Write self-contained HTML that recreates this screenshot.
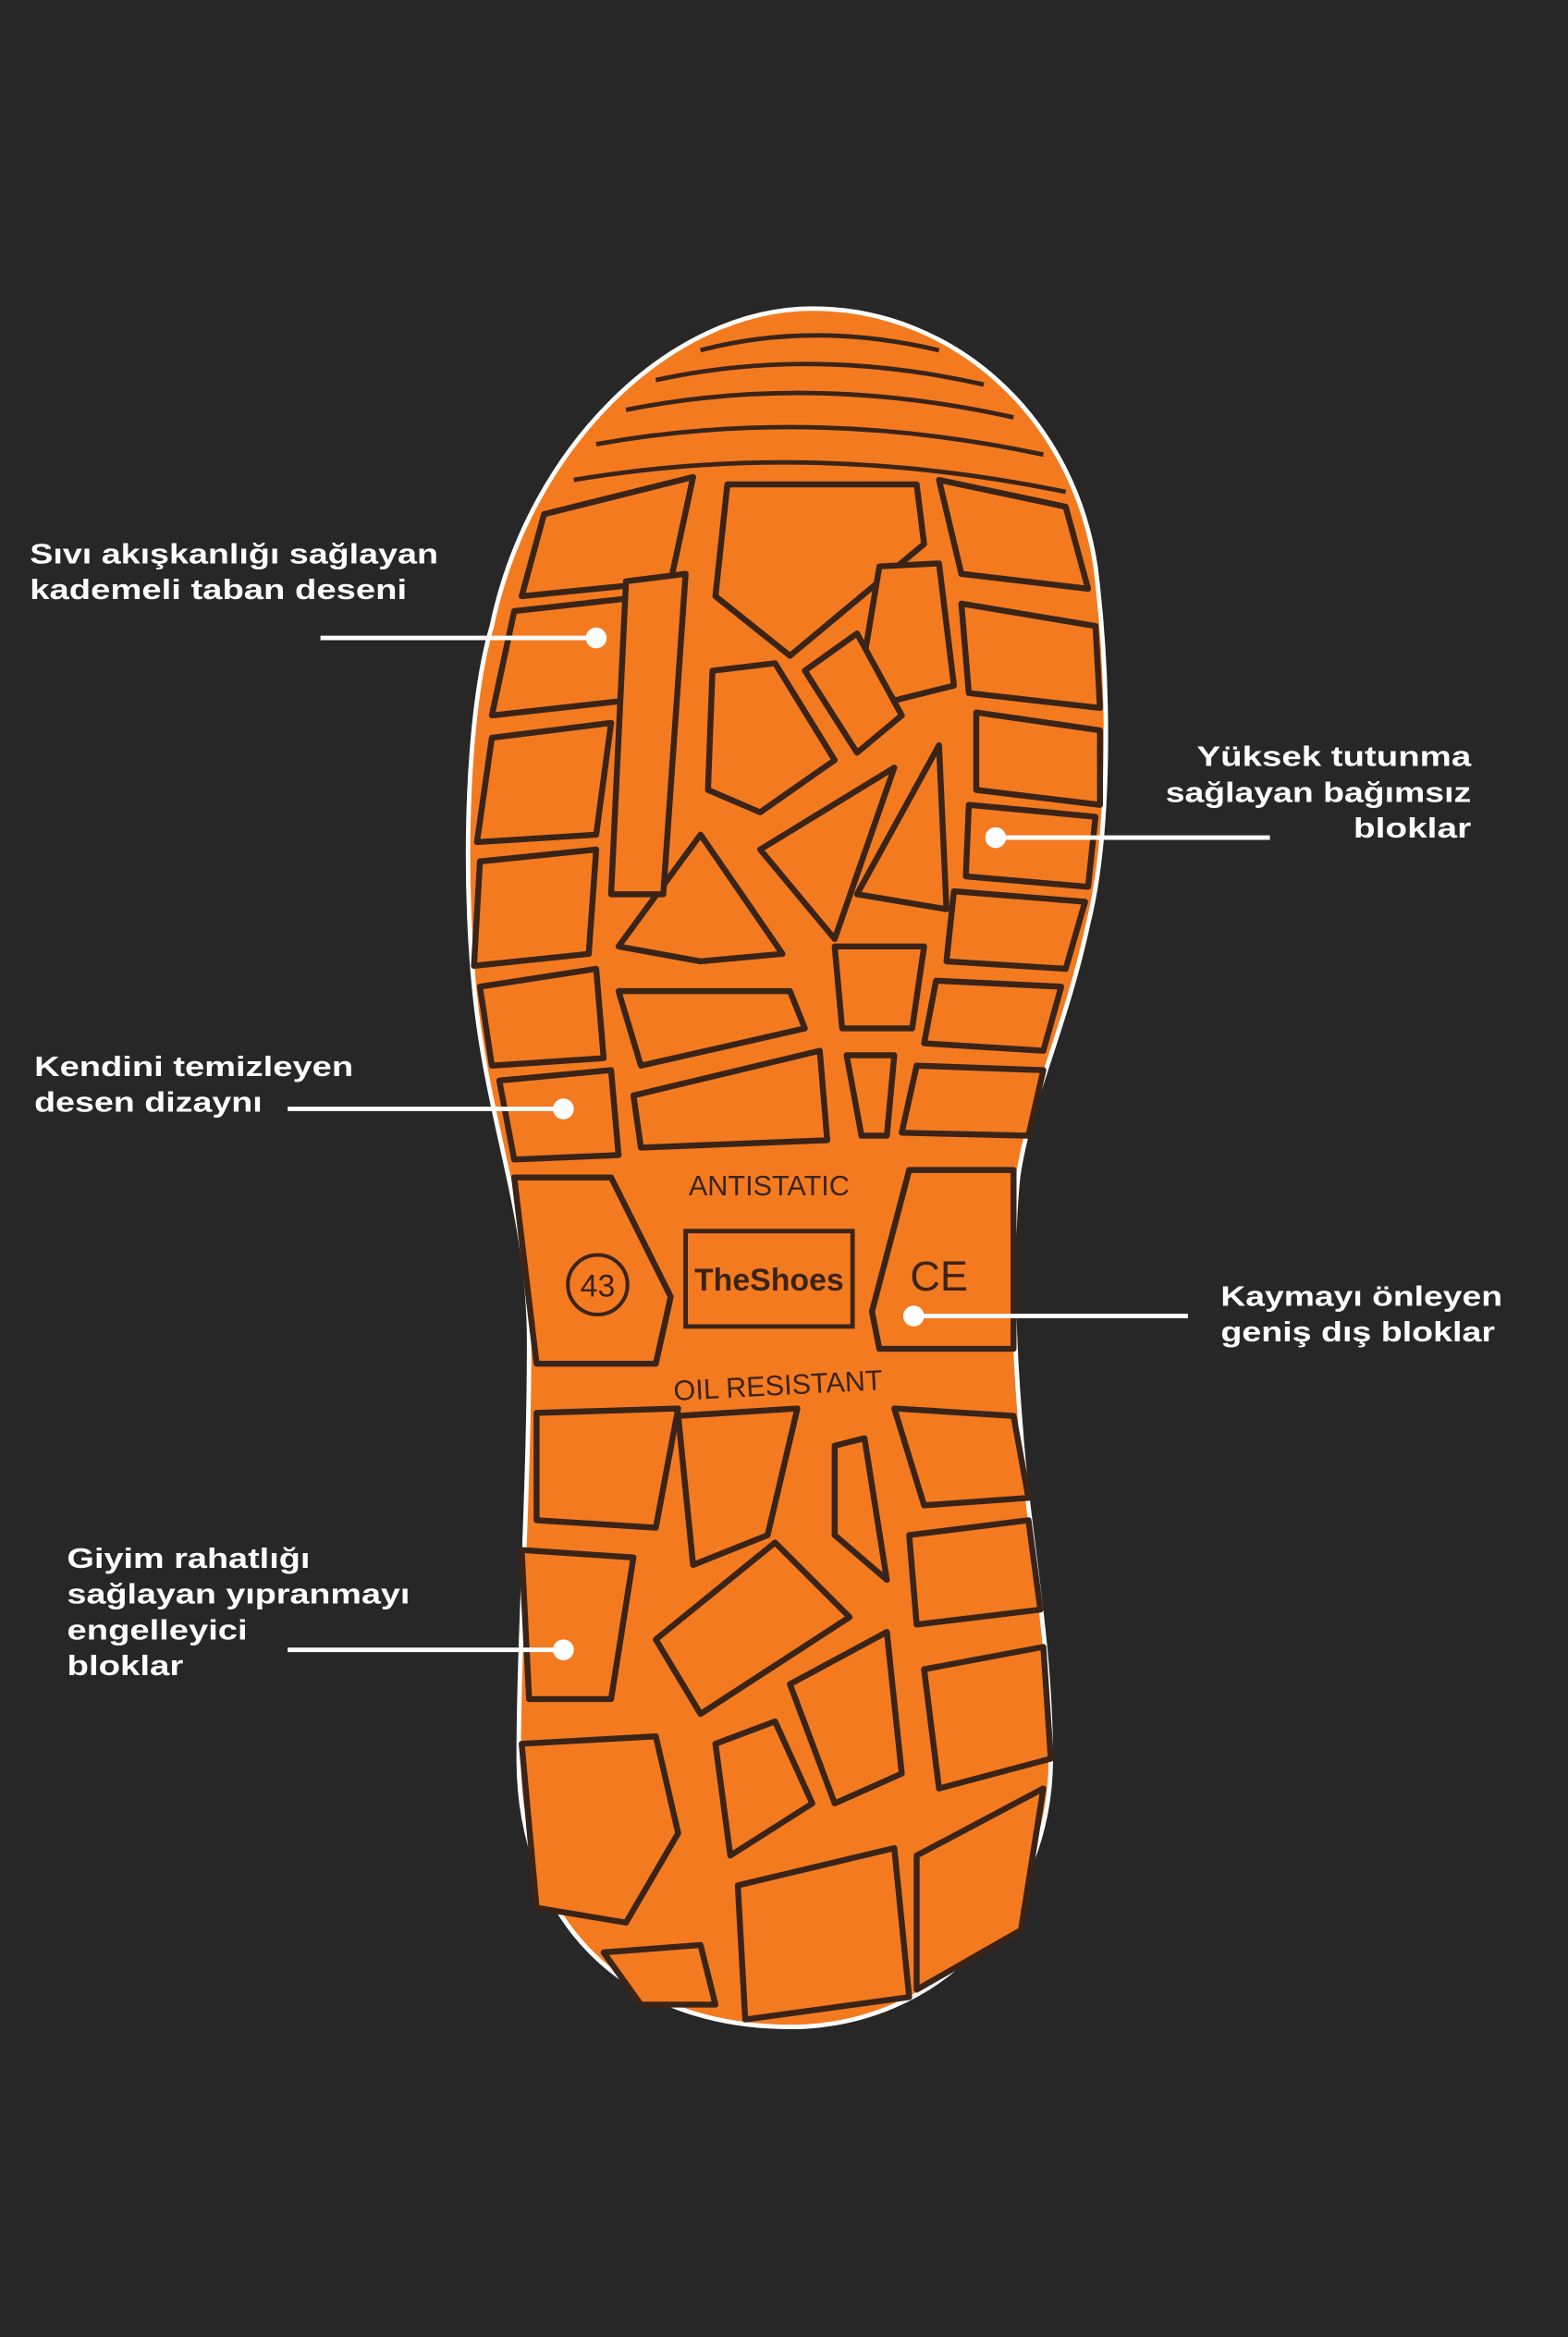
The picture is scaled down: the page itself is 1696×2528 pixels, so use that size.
<!DOCTYPE html>
<html><head><meta charset="utf-8"><style>
html,body{margin:0;padding:0;background:#272727;}
svg{display:block;}
text{font-family:"Liberation Sans",sans-serif;}
.lbl{fill:#fff;font-weight:bold;font-size:19px;}
.b{fill:#f47a20;stroke:#3a2418;stroke-width:4;stroke-linejoin:round;}
.l{fill:none;stroke:#3a2418;stroke-width:3;}
</style></head><body>
<svg width="1696" height="2528" viewBox="0 0 1052 1568" xmlns="http://www.w3.org/2000/svg">
<rect width="1052" height="1568" fill="#272727"/>
<path d="M545,207 C640,207 720,280 735,380 C745,460 745,560 730,620 C715,690 690,740 683,790 C678,840 680,900 685,960 C690,1030 705,1100 705,1180 C705,1280 630,1360 530,1360 C420,1360 348,1290 348,1180 C348,1100 355,1000 355,900 C355,820 330,760 320,680 C310,600 312,480 330,420 C355,300 450,207 545,207 Z" fill="#f47a20" stroke="#fff" stroke-width="3"/>
<g class="l">
<path d="M470,235 Q545,215 630,235"/><path d="M440,255 Q545,232 660,258"/><path d="M420,275 Q545,250 680,280"/><path d="M400,298 Q545,272 700,305"/><path d="M385,322 Q545,295 715,330"/>
</g>
<g class="b">
<path d="M365,345 L465,320 L450,390 L350,400 Z"/>
<path d="M345,410 L435,400 L420,470 L330,480 Z"/>
<path d="M330,495 L410,485 L400,560 L320,565 Z"/>
<path d="M322,578 L400,570 L395,640 L318,648 Z"/>
<path d="M322,662 L400,650 L405,710 L330,715 Z"/>
<path d="M335,725 L410,718 L415,775 L345,778 Z"/>
</g>
<g class="b">
<path d="M630,322 L715,340 L730,395 L645,385 Z"/>
<path d="M645,405 L735,420 L738,475 L650,465 Z"/>
<path d="M655,478 L738,490 L738,540 L655,530 Z"/>
<path d="M650,540 L735,548 L730,595 L648,588 Z"/>
<path d="M640,598 L728,605 L715,650 L635,645 Z"/>
<path d="M628,658 L712,662 L700,705 L620,700 Z"/>
<path d="M615,715 L700,718 L690,762 L605,760 Z"/>
</g>
<g class="b">
<path d="M488,325 L615,325 L620,365 L530,440 L480,400 Z"/>
<path d="M590,380 L630,378 L640,460 L600,470 L580,440 Z"/>
<path d="M540,450 L575,425 L605,480 L575,505 Z"/>
<path d="M478,450 L520,445 L560,510 L510,545 L475,530 Z"/>
<path d="M415,635 L470,560 L525,640 L470,645 Z"/>
<path d="M510,570 L600,515 L560,630 Z"/>
<path d="M575,600 L630,500 L635,610 Z"/>
<path d="M415,665 L530,665 L540,690 L430,715 Z"/>
<path d="M425,735 L550,705 L555,765 L430,770 Z"/>
<path d="M560,635 L620,635 L612,690 L565,690 Z"/>
<path d="M568,708 L600,708 L595,762 L578,762 Z"/>
<path d="M420,390 L460,385 L445,600 L410,600 Z"/>
<path d="M345,790 L410,790 L450,870 L440,915 L360,915 Z"/>
<path d="M610,785 L680,785 L680,905 L590,905 L585,880 Z"/>
<path d="M360,948 L455,945 L440,1025 L360,1020 Z"/>
<path d="M455,950 L535,945 L515,1030 L465,1050 Z"/>
<path d="M560,970 L580,965 L595,1060 L560,1030 Z"/>
<path d="M600,945 L680,950 L690,1005 L620,1010 Z"/>
<path d="M350,1040 L425,1045 L410,1140 L355,1140 Z"/>
<path d="M440,1100 L520,1035 L570,1085 L470,1150 Z"/>
<path d="M610,1030 L690,1020 L698,1080 L615,1090 Z"/>
<path d="M350,1170 L440,1165 L455,1230 L420,1290 L360,1280 Z"/>
<path d="M480,1170 L520,1155 L545,1210 L490,1245 Z"/>
<path d="M530,1130 L595,1095 L605,1190 L560,1210 Z"/>
<path d="M620,1120 L700,1105 L705,1180 L630,1200 Z"/>
<path d="M495,1265 L600,1240 L610,1340 L500,1355 Z"/>
<path d="M615,1245 L700,1200 L685,1295 L615,1335 Z"/>
<path d="M405,1310 L470,1305 L480,1345 L430,1345 Z"/>
</g>
<rect x="460" y="826" width="112" height="64" fill="none" stroke="#3a2418" stroke-width="3"/>
<text x="516" y="866" text-anchor="middle" font-size="21" font-weight="bold" fill="#3a2418">TheShoes</text>
<text x="516" y="802" text-anchor="middle" font-size="19" fill="#3a2418">ANTISTATIC</text>
<text x="522" y="936" text-anchor="middle" font-size="19" fill="#3a2418" transform="rotate(-3 522 930)">OIL RESISTANT</text>
<circle cx="401" cy="862" r="20" fill="none" stroke="#3a2418" stroke-width="2.5"/>
<text x="401" y="870" text-anchor="middle" font-size="21" fill="#3a2418">43</text>
<text x="630" y="866" text-anchor="middle" font-size="28" fill="#3a2418">CE</text>
<g stroke="#fff" stroke-width="3"><line x1="215" y1="428" x2="400" y2="428"/><line x1="668" y1="562" x2="852" y2="562"/><line x1="193" y1="744" x2="378" y2="744"/><line x1="613" y1="883" x2="797" y2="883"/><line x1="193" y1="1107" x2="378" y2="1107"/></g>
<g fill="#fff"><circle cx="400" cy="428" r="7"/><circle cx="668" cy="562" r="7"/><circle cx="378" cy="744" r="7"/><circle cx="613" cy="883" r="7"/><circle cx="378" cy="1107" r="7"/></g>
<g lengthAdjust="spacingAndGlyphs">
<text class="lbl" x="20" y="378" textLength="274" lengthAdjust="spacingAndGlyphs">Sıvı akışkanlığı sağlayan</text>
<text class="lbl" x="20" y="402" textLength="253" lengthAdjust="spacingAndGlyphs">kademeli taban deseni</text>
<text class="lbl" x="803" y="514" textLength="184" lengthAdjust="spacingAndGlyphs">Yüksek tutunma</text>
<text class="lbl" x="782" y="538" textLength="205" lengthAdjust="spacingAndGlyphs">sağlayan bağımsız</text>
<text class="lbl" x="908" y="562" textLength="79" lengthAdjust="spacingAndGlyphs">bloklar</text>
<text class="lbl" x="23" y="722" textLength="214" lengthAdjust="spacingAndGlyphs">Kendini temizleyen</text>
<text class="lbl" x="23" y="746" textLength="153" lengthAdjust="spacingAndGlyphs">desen dizaynı</text>
<text class="lbl" x="819" y="876" textLength="189" lengthAdjust="spacingAndGlyphs">Kaymayı önleyen</text>
<text class="lbl" x="819" y="900" textLength="184" lengthAdjust="spacingAndGlyphs">geniş dış bloklar</text>
<text class="lbl" x="45" y="1052" textLength="163" lengthAdjust="spacingAndGlyphs">Giyim rahatlığı</text>
<text class="lbl" x="45" y="1076" textLength="230" lengthAdjust="spacingAndGlyphs">sağlayan yıpranmayı</text>
<text class="lbl" x="45" y="1100" textLength="121" lengthAdjust="spacingAndGlyphs">engelleyici</text>
<text class="lbl" x="45" y="1124" textLength="78" lengthAdjust="spacingAndGlyphs">bloklar</text>
</g>
</svg>
</body></html>
